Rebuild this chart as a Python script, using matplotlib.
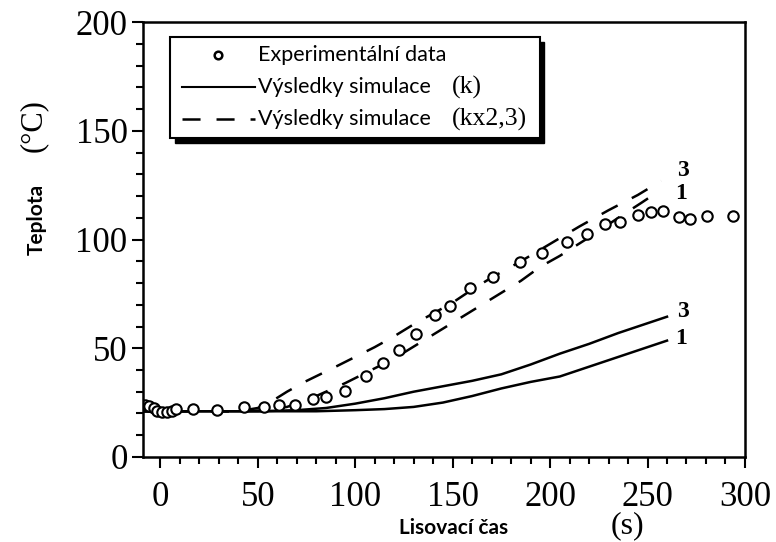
import matplotlib
matplotlib.use("Agg")
import matplotlib.pyplot as plt
from matplotlib.patches import Rectangle
from matplotlib.ticker import MultipleLocator

plt.rcParams['lines.scale_dashes'] = False

# experimental points
exp_t = [-8, -6, -3.5, -1.5, 1, 3.5, 6, 8, 17, 29, 43, 53, 61, 69, 78.5, 85,
         95, 105.5, 114.5, 122.5, 131, 141, 148.5, 159, 170.5, 184.5, 196,
         208.5, 219, 228, 236, 245, 252, 258, 266, 272, 280.5, 294]
exp_T = [24, 23.5, 22.5, 21, 20.5, 20.5, 21, 22, 22, 21.5, 23, 23, 24, 24,
         26.5, 27.5, 30.5, 37, 43, 49, 56.5, 65.5, 69.5, 77.5, 83, 89.5, 94,
         99, 102.5, 107, 108, 111.5, 112.5, 113, 110.5, 109.5, 111, 111]

# simulation (k), curves 3 and 1
s3_t = [-9, 20, 50, 70, 85, 100, 115, 130, 145, 160, 175, 190, 205, 220, 235, 250, 260]
s3_T = [21, 21, 21, 21.5, 22.5, 24.5, 27, 30, 32.5, 35, 38, 42.5, 47.5, 52, 57, 61.5, 64.5]
s1_t = [-9, 20, 50, 80, 100, 115, 130, 145, 160, 175, 190, 205, 220, 235, 250, 260]
s1_T = [21, 21, 21, 21, 21.5, 22, 23, 25, 28, 31.5, 34.5, 37, 41.5, 46, 50.5, 53.5]

# simulation (kx2,3), curves 3 and 1
d3_t = [-9, 20, 40, 50, 57, 65, 74, 82, 90, 100, 110, 120, 130, 140, 150, 160,
        170, 185, 200, 215, 230, 245, 257]
d3_T = [21, 21, 21, 22.5, 25.5, 30, 34.5, 38, 41.5, 46, 50.5, 55.5, 61, 66, 71,
        77, 82.5, 90, 98, 106, 113.5, 120.5, 127]
d1_t = [-9, 20, 40, 55, 65, 75, 85, 95, 105, 115, 125, 135, 145, 155, 165, 175,
        185, 195, 205, 220, 235, 247, 257]
d1_T = [21, 21, 21, 21.5, 23, 26, 30, 34, 38.5, 43, 48, 53.5, 59, 64.5, 70,
        75.5, 81, 87.5, 92.5, 101, 110, 117, 123]

serif = 'Liberation Serif'
sans = 'Lato'
dash = (13, 11.5)

fig = plt.figure(figsize=(7.76, 5.42), dpi=100)
ax = fig.add_axes([0.184, 0.157, 0.776, 0.802])

ax.plot(s3_t, s3_T, color='black', lw=1.8)
ax.plot(s1_t, s1_T, color='black', lw=1.8)
ax.plot(d3_t, d3_T, color='black', lw=1.8, dashes=dash)
ax.plot(d1_t, d1_T, color='black', lw=1.8, dashes=dash)
ax.plot(exp_t, exp_T, 'o', ms=7.5, mfc='white', mec='black', mew=1.5)

# curve numbers at the line ends
for x, y, s in [(268, 132, '3'), (267, 121, '1'), (268, 67, '3'), (267, 54.5, '1')]:
    ax.text(x, y, s, family=serif, fontsize=17, fontweight='bold',
            ha='center', va='center')

ax.set_xlim(-9, 300)
ax.set_ylim(0, 200)
ax.xaxis.set_major_locator(MultipleLocator(50))
ax.xaxis.set_minor_locator(MultipleLocator(10))
ax.yaxis.set_major_locator(MultipleLocator(50))
ax.yaxis.set_minor_locator(MultipleLocator(10))
ax.tick_params(which='major', length=8, width=1.5, direction='out')
ax.tick_params(which='minor', length=5, width=1.5, direction='out')
ax.tick_params(axis='x', pad=9)
ax.tick_params(axis='y', pad=3)
for lab in ax.get_xticklabels() + ax.get_yticklabels():
    lab.set_fontfamily(serif)
    lab.set_fontsize(25)
for sp in ax.spines.values():
    sp.set_linewidth(1.8)

# legend box with drop shadow
tr = ax.transAxes
ax.add_patch(Rectangle((0.053, 0.722), 0.614, 0.233, transform=tr,
                       facecolor='black', edgecolor='black', zorder=5))
ax.add_patch(Rectangle((0.045, 0.733), 0.614, 0.233, transform=tr,
                       facecolor='white', edgecolor='black', lw=1.5, zorder=6))
ax.plot([0.125], [0.924], 'o', transform=tr, ms=5.5, mfc='white', mec='black',
        mew=1.8, zorder=7)
ax.plot([0.065, 0.186], [0.851, 0.851], transform=tr, color='black', lw=1.5, zorder=7)
ax.plot([0.065, 0.186], [0.777, 0.777], transform=tr, color='black', lw=1.8,
        dashes=dash, zorder=7)
ax.text(0.191, 0.924, 'Experimentální data', transform=tr, family=sans,
        fontsize=15.5, va='center', zorder=8)
ax.text(0.191, 0.851, 'Výsledky simulace', transform=tr, family=sans,
        fontsize=15.5, va='center', zorder=8)
ax.text(0.191, 0.777, 'Výsledky simulace', transform=tr, family=sans,
        fontsize=15.5, va='center', zorder=8)
ax.text(0.513, 0.851, '(k)', transform=tr, family=serif, fontsize=18.5,
        va='center', zorder=8)
ax.text(0.513, 0.777, '(kx2,3)', transform=tr, family=serif, fontsize=18.5,
        va='center', zorder=8)

# axis titles
fig.text(0.048, 0.596, 'Teplota', family=sans, fontweight='bold', fontsize=15,
         rotation=90, ha='center', va='center')
fig.text(0.0425, 0.768, '(°C)', family=serif, fontsize=22,
         rotation=90, ha='center', va='center')
fig.text(0.585, 0.026, 'Lisovací čas', family=sans, fontweight='bold',
         fontsize=15, ha='center', va='center')
fig.text(0.808, 0.030, '(s)', family=serif, fontsize=23, ha='center', va='center')

fig.savefig('out.png', dpi=100)
